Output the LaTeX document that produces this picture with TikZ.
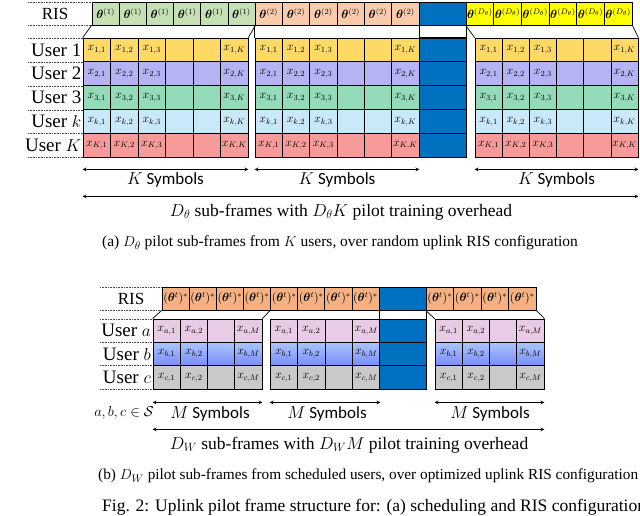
\documentclass[tikz,border=0pt]{standalone}
\usepackage{fontspec}
\usepackage{amsmath,amssymb,bm}
\setmainfont{Liberation Serif}
\newfontfamily\symfont{Carlito}
\definecolor{cy}{HTML}{FFD966}
\definecolor{cp}{HTML}{B4B4F5}
\definecolor{cg}{HTML}{93DBB9}
\definecolor{cb}{HTML}{C9E9FA}
\definecolor{cr}{HTML}{F79A9A}
\definecolor{rg}{HTML}{C5E0B4}
\definecolor{ro}{HTML}{F8CBAD}
\definecolor{ro2}{HTML}{F4B183}
\definecolor{ry}{HTML}{FFFF00}
\definecolor{bl}{HTML}{0070C0}
\definecolor{pk}{HTML}{E8CBE4}
\definecolor{gy}{HTML}{C9C9C9}
\tikzset{
 cell/.style={draw=black,line width=0.7pt,inner sep=0pt,anchor=center},
 ctext/.style={font=\fontsize{11.5}{12}\selectfont,inner sep=0pt},
 rtext/.style={font=\fontsize{11.5}{12}\selectfont,inner sep=0pt},
 lab/.style={font=\fontsize{19}{20}\selectfont,anchor=east,inner sep=0pt},
 dots/.style={densely dotted,line width=0.6pt,gray!60!black},
 arr/.style={<->,>=stealth,line width=0.7pt},
 symb/.style={font=\symfont\fontsize{17}{18}\selectfont},
 captxt/.style={inner sep=0pt},
 blu/.style={top color=blue!15!cb,bottom color=blue!40!cb},
 pkf/.style={fill=pk},gyf/.style={fill=gy}
}
\begin{document}
\begin{tikzpicture}[x=1pt,y=-1pt]
\useasboundingbox (0,0) rectangle (640,516);
\clip (0,0) rectangle (640,516);
% ================= TOP =================
\draw[dots] (28,2)--(92,2) (28,25)--(92,25);
\foreach \yy in {38,62,86,110,133,157} \draw[dots] (28,\yy)--(83,\yy);
\node[font=\fontsize{17}{18}\selectfont] (risA) at (55,13.5) {RIS};
\foreach \bx/\bw/\bc/\bn/\lab in {92/27.17/rg/ta/(1),255/27.33/ro/tb/(2),466/27.67/ry/tc/(D_\theta)}{
 \foreach \i in {0,...,5}{
  \node[cell,fill=\bc,minimum width=\bw pt,minimum height=23pt] (\bn-\i) at ({\bx+(\i+0.5)*\bw},13.5) {};
  \node[rtext] at (\bn-\i) {$\bm{\theta}^{\lab}$};
 }}
\foreach \bx/\bw/\bn in {83/27.5/a,255/27.33/b,475/27.17/c}{
 \foreach \r/\rc [count=\j from 0] in {1/cy,2/cp,3/cg,k/cb,K/cr}{
  \foreach \i in {0,...,5}
   \node[cell,fill=\rc,minimum width=\bw pt,minimum height=23.8pt] (\bn-\j-\i) at ({\bx+(\i+0.5)*\bw},{38+(\j+0.5)*23.8}) {};
  \foreach \i/\c in {0/1,1/2,2/3,5/K}
   \node[ctext] at (\bn-\j-\i) {$x_{\r,\c}$};
 }}
\node[cell,fill=bl,minimum width=47pt,minimum height=23pt] (blA) at (442.5,13.5) {};
\node[cell,fill=white,minimum width=47pt,minimum height=12pt] (wA) at (442.5,31) {};
\foreach \j in {0,...,4}
 \node[cell,fill=bl,minimum width=47pt,minimum height=23.8pt] (blA-\j) at (442.5,{38+(\j+0.5)*23.8}) {};
\foreach \t [count=\j from 0] in {User 1,User 2,User 3,User $k$,User $K$}
 \node[lab] (ulA\j) at (81.5,{38+(\j+0.5)*23.8}) {\t};
\draw[line width=0.7pt] (ta-0.south west)--(a-0-0.north west) (ta-5.south east)--(a-0-5.north east);
\draw[line width=0.7pt] (tb-0.south west)--(b-0-0.north west);
\draw[line width=0.7pt] (tc-0.south west)--(c-0-0.north west) (tc-5.south east)--(c-0-5.north east);
\foreach \bn in {a,b,c}{
 \draw[arr] ([yshift=-12pt]\bn-4-0.south west)--([yshift=-12pt]\bn-4-5.south east);
 \path ([yshift=-12pt]\bn-4-0.south west)--([yshift=-12pt]\bn-4-5.south east) node[midway,below=0pt,symb] {$K$ Symbols};
}
\draw[arr] ([yshift=-39pt]a-4-0.south west)--([yshift=-39pt]c-4-5.south east);
\node[captxt,font=\fontsize{17.5}{18}\selectfont] (tA) at (341,212) {$D_\theta$ sub-frames with $D_\theta K$ pilot training overhead};
\node[captxt,font=\fontsize{15.5}{16}\selectfont] (capA) at (340,243) {(a) $D_\theta$ pilot sub-frames from $K$ users, over random uplink RIS configuration};
% ================= BOTTOM =================
\draw[dots] (100,287)--(162,287) (100,310)--(162,310);
\foreach \yy in {319,342.3,365.7,389} \draw[dots] (100,\yy)--(153,\yy);
\node[font=\fontsize{17}{18}\selectfont] (risB) at (131,298.5) {RIS};
\foreach \bx/\bw/\bn/\nn in {162/27.125/sa/7,426/27.5/sb/3}{
 \foreach \i in {0,...,\nn}{
  \node[cell,fill=ro2,minimum width=\bw pt,minimum height=23pt] (\bn-\i) at ({\bx+(\i+0.5)*\bw},298.5) {};
  \node[rtext] at (\bn-\i) {$(\bm{\theta}^t)^{*}$};
 }}
\foreach \bx/\bw/\bn in {153/27.25/d,270/27.5/e,435/27.25/f}{
 \foreach \r/\rc [count=\j from 0] in {a/pkf,b/blu,c/gyf}{
  \foreach \i in {0,...,3}
   \node[cell,\rc,minimum width=\bw pt,minimum height=23.33pt] (\bn-\j-\i) at ({\bx+(\i+0.5)*\bw},{319+(\j+0.5)*23.33}) {};
  \foreach \i/\c in {0/1,1/2,3/M}
   \node[ctext] at (\bn-\j-\i) {$x_{\r,\c}$};
 }}
\node[cell,fill=bl,minimum width=47pt,minimum height=23pt] (blB) at (402.5,298.5) {};
\node[cell,fill=white,minimum width=47pt,minimum height=9pt] (wB) at (402.5,314.5) {};
\foreach \j in {0,...,2}
 \node[cell,fill=bl,minimum width=47pt,minimum height=23.33pt] (blB-\j) at (402.5,{319+(\j+0.5)*23.33}) {};
\foreach \t [count=\j from 0] in {User $a$,User $b$,User $c$}
 \node[lab] (ulB\j) at (151,{319+(\j+0.5)*23.33}) {\t};
\draw[line width=0.7pt] (sa-0.south west)--(d-0-0.north west) (sa-4.south west)--(d-0-3.north east);
\draw[line width=0.7pt] (sb-0.south west)--(f-0-0.north west) (sb-3.south east)--(f-0-3.north east);
\foreach \bn in {d,e,f}{
 \draw[arr] ([yshift=-13pt]\bn-2-0.south west)--([yshift=-13pt]\bn-2-3.south east);
}
\node[symb] (m1) at (210,414) {$M$ Symbols};
\node[symb] (m2) at (327,414) {$M$ Symbols};
\node[symb] (m3) at (490,414) {$M$ Symbols};
\node[font=\fontsize{14.5}{15}\selectfont] (abc) at (124,413) {$a,b,c\in\mathcal{S}$};
\draw[arr] ([yshift=-40pt]d-2-0.south west)--([yshift=-40pt]f-2-3.south east);
\node[captxt,font=\fontsize{17.5}{18}\selectfont] (tB) at (349,445) {$D_W$ sub-frames with $D_W M$ pilot training overhead};
\node[captxt,font=\fontsize{15.3}{16}\selectfont,anchor=west] (capB) at (98,476) {(b) $D_W$ pilot sub-frames from scheduled users, over optimized uplink RIS configuration};
\node[captxt,font=\fontsize{17.5}{18}\selectfont,anchor=west] (fig) at (102,507) {Fig. 2: Uplink pilot frame structure for: (a) scheduling and RIS configuration;};
\end{tikzpicture}
\end{document}
